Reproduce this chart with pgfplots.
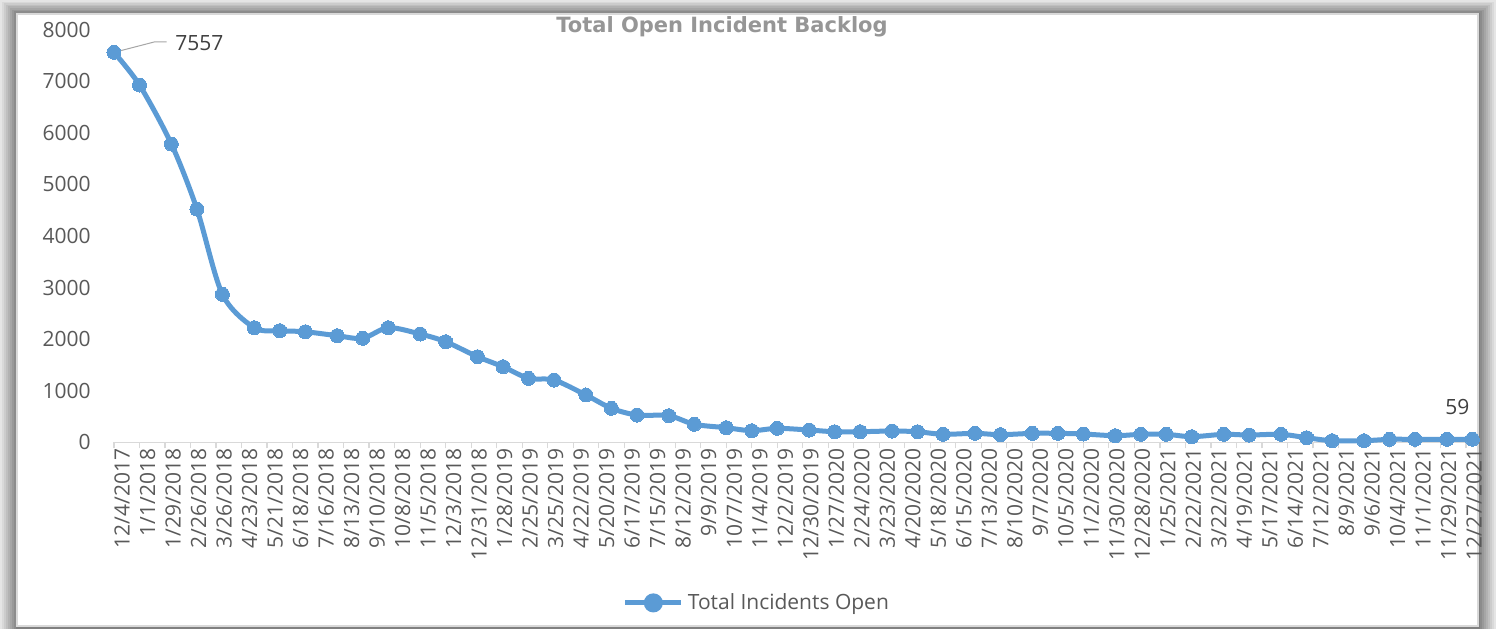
\documentclass[border=0pt]{standalone}
\usepackage{fontspec}
\setmainfont{Open Sans}
\newfontfamily\titlefont{DejaVu Sans}
\usepackage{pgfplots}
\pgfplotsset{compat=1.18}
\definecolor{lineblue}{HTML}{5B9BD5}
\definecolor{txt}{HTML}{595959}
\definecolor{axgray}{HTML}{D9D9D9}
\definecolor{titlegray}{HTML}{969696}
\definecolor{lblgray}{HTML}{404040}
\pgfplotstableread{
x y
0 7557
28 6924
63 5781
91 4521
119 2868
154 2221
182 2163
210 2143
245 2066
273 2016
301 2221
336 2099
364 1950
399 1659
427 1465
455 1240
483 1207
518 917
546 659
574 529
609 516
637 349
672 283
700 225
728 271
763 238
791 205
819 205
854 219
882 205
910 155
945 174
973 148
1008 174
1036 174
1064 161
1099 128
1127 155
1155 155
1183 109
1218 155
1246 141
1281 155
1309 89
1337 31
1372 31
1400 58
1428 58
1463 58
1491 59
}\datatable
\begin{document}
\begin{tikzpicture}
\useasboundingbox (0,0) rectangle (748pt,-314.5pt);
\begin{scope}[x=0.5pt,y=0.5pt]
\foreach \i in {0,...,8}{
  \pgfmathtruncatemacro\c{10+5*\i}
  \fill[black!\c] (2*\i,-1.6*\i) rectangle (1496-2*\i,-629);
}
\fill[white] (17,-14) rectangle (1478,-626);
\draw[axgray,line width=0.6pt] (17,-14) rectangle (1478,-626);
\node[font=\titlefont\bfseries\fontsize{10.5}{12}\selectfont, text=titlegray] at (722,-27) {Total Open Incident Backlog};
\end{scope}
\begin{axis}[
  at={(57pt,-221.15pt)}, anchor=south west,
  scale only axis, width=679.2pt, height=206.4pt,
  xmin=0, xmax=1491, ymin=0, ymax=8000,
  clip=false,
  axis x line*=bottom, axis y line*=left,
  x axis line style={draw=axgray, line width=0.75pt, -},
  y axis line style={draw=none},
  ytick={0,1000,...,8000},
  ytick style={draw=none},
  xtick={0,28,...,1484},
  xticklabels={12/4/2017,1/1/2018,1/29/2018,2/26/2018,3/26/2018,4/23/2018,5/21/2018,6/18/2018,7/16/2018,8/13/2018,9/10/2018,10/8/2018,11/5/2018,12/3/2018,12/31/2018,1/28/2019,2/25/2019,3/25/2019,4/22/2019,5/20/2019,6/17/2019,7/15/2019,8/12/2019,9/9/2019,10/7/2019,11/4/2019,12/2/2019,12/30/2019,1/27/2020,2/24/2020,3/23/2020,4/20/2020,5/18/2020,6/15/2020,7/13/2020,8/10/2020,9/7/2020,10/5/2020,11/2/2020,11/30/2020,12/28/2020,1/25/2021,2/22/2021,3/22/2021,4/19/2021,5/17/2021,6/14/2021,7/12/2021,8/9/2021,9/6/2021,10/4/2021,11/1/2021,11/29/2021,12/27/2021},
  x tick style={draw=axgray, line width=0.6pt},
  tick align=outside, major tick length=3pt,
  /pgf/number format/assume math mode=true,
  /pgf/number format/1000 sep={},
  tick label style={font=\fontsize{10.5}{12}\selectfont, text=txt},
  yticklabel style={anchor=east, inner sep=0pt, xshift=-8.5pt},
  xticklabel style={rotate=90, anchor=east, inner sep=0pt, yshift=-4pt},
  legend style={draw=none, fill=none, at={(0.474,-0.389)}, anchor=center,
    font=\fontsize{10.5}{12}\selectfont, text=txt, inner sep=0pt},
  legend image code/.code={
    \draw[line width=2.5pt, lineblue] (0pt,0pt) -- (28pt,0pt);
    \fill[lineblue] (14pt,0pt) circle (3.5pt);
  },
]
\addplot[lineblue, line width=2.5pt, smooth, tension=0.5,
  mark=*, mark size=3.5pt, mark options={fill=lineblue, draw=lineblue, line width=0pt}]
  table[x=x,y=y] {\datatable};
\addlegendentry{Total Incidents Open}
\draw[gray!70, line width=0.5pt] (axis cs:0,7557) -- ++(20.5pt,5.3pt) -- ++(5.8pt,0pt);
\node[anchor=west, font=\fontsize{10.5}{12}\selectfont, text=lblgray, inner sep=0pt] at ([xshift=30.5pt,yshift=4.5pt]axis cs:0,7557) {7557};
\node[font=\fontsize{10.5}{12}\selectfont, text=lblgray, inner sep=0pt] at ([xshift=-7.5pt,yshift=16pt]axis cs:1491,59) {59};
\end{axis}
\end{tikzpicture}
\end{document}
